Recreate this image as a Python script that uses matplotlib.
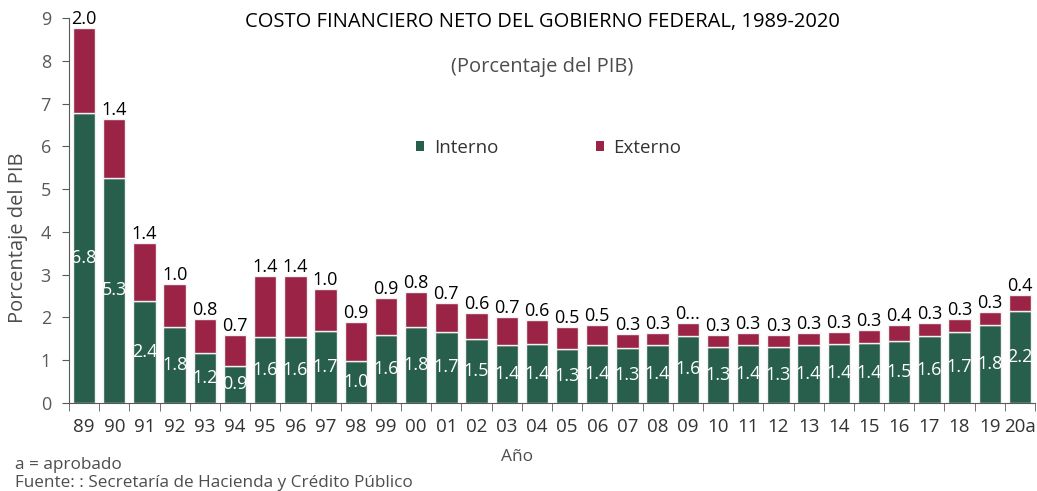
import matplotlib
matplotlib.use("Agg")
import matplotlib.pyplot as plt
from matplotlib.patches import Patch
import numpy as np

plt.rcParams['font.family'] = ['Open Sans', 'DejaVu Sans']

years = ["89", "90", "91", "92", "93", "94", "95", "96", "97", "98", "99", "00",
         "01", "02", "03", "04", "05", "06", "07", "08", "09", "10", "11", "12",
         "13", "14", "15", "16", "17", "18", "19", "20a"]
interno = [6.78, 5.26, 2.38, 1.78, 1.18, 0.87, 1.55, 1.55, 1.68, 0.98, 1.58, 1.77,
           1.66, 1.50, 1.36, 1.37, 1.27, 1.36, 1.29, 1.36, 1.57, 1.32, 1.36, 1.31,
           1.36, 1.38, 1.41, 1.46, 1.56, 1.66, 1.82, 2.16]
externo = [1.98, 1.38, 1.36, 1.00, 0.78, 0.72, 1.42, 1.42, 0.99, 0.91, 0.88, 0.82,
           0.68, 0.60, 0.66, 0.57, 0.50, 0.46, 0.32, 0.27, 0.30, 0.28, 0.28, 0.28,
           0.28, 0.27, 0.29, 0.36, 0.30, 0.30, 0.30, 0.36]
externo_labels = [f"{v:.1f}" for v in externo]
externo_labels[20] = "0..."

GREEN = "#285E4C"
RED = "#9B2346"
GREY = "#595959"
TXT = "#4d4d4d"

fig = plt.figure(figsize=(10.37, 4.91), dpi=100)
ax = fig.add_axes([69/1037, 1-403/491, (1035-69)/1037, (403-18)/491])

x = np.arange(len(years))
w = 0.74
ax.bar(x, interno, width=w, color=GREEN, edgecolor="#f2f2f2", linewidth=1.0)
ax.bar(x, externo, width=w, bottom=interno, color=RED, edgecolor="#f2f2f2", linewidth=1.0)

for i in range(len(years)):
    ax.text(x[i], interno[i] / 2, f"{interno[i]:.1f}", ha="center", va="center",
            color="white", fontsize=13)
    ax.text(x[i], interno[i] + externo[i], externo_labels[i], ha="center",
            va="bottom", color="black", fontsize=13)

ax.set_xlim(-0.5, len(years) - 0.5)
ax.set_ylim(0, 9)
ax.set_yticks(range(0, 10))
ax.set_xticks(x)
ax.set_xticklabels(years)
ax.set_xticks(np.arange(-0.5, len(years), 1.0), minor=True)
ax.tick_params(axis="x", which="major", length=0, pad=11, labelsize=13.5, labelcolor="#333333")
ax.tick_params(axis="x", which="minor", length=6, color=GREY, direction="out")
ax.tick_params(axis="y", length=5, color=GREY, labelsize=13, labelcolor=GREY, pad=8)
for s in ["top", "right"]:
    ax.spines[s].set_visible(False)
ax.spines["left"].set_color(GREY)
ax.spines["bottom"].set_color(GREY)

ax.set_ylabel("Porcentaje del PIB", fontsize=14.5, color=TXT)
ax.yaxis.set_label_coords((28 - 69) / 966, (403 - 238) / 385)
fig.text(517/1037, 1-457/491, "Año", ha="center", va="center", fontsize=12.5, color=TXT)

fig.text(542/1037, 1-22/491, "COSTO FINANCIERO NETO DEL GOBIERNO FEDERAL, 1989-2020",
         ha="center", va="center", fontsize=14.5, color="black", fontweight="medium")
fig.text(542/1037, 1-67/491, "(Porcentaje del PIB)", ha="center", va="center",
         fontsize=14.5, color=TXT)

handles = [Patch(facecolor=GREEN, label="Interno"), Patch(facecolor=RED, label="Externo")]
ax.legend(handles=handles, loc="center left", bbox_to_anchor=((416 - 69) / 966, (403 - 148) / 385),
          ncol=2, frameon=False, fontsize=13.5, handlelength=0.45, handleheight=0.45,
          handletextpad=0.5, columnspacing=5.2, labelcolor="#333333", borderaxespad=0,
          borderpad=0)

fig.text(15/1037, 1-465/491, "a = aprobado", ha="left", va="center", fontsize=12.3, color=TXT)
fig.text(15/1037, 1-483/491, "Fuente: : Secretaría de Hacienda y Crédito Público", ha="left",
         va="center", fontsize=12.3, color=TXT)

fig.savefig("out.png", dpi=100)
